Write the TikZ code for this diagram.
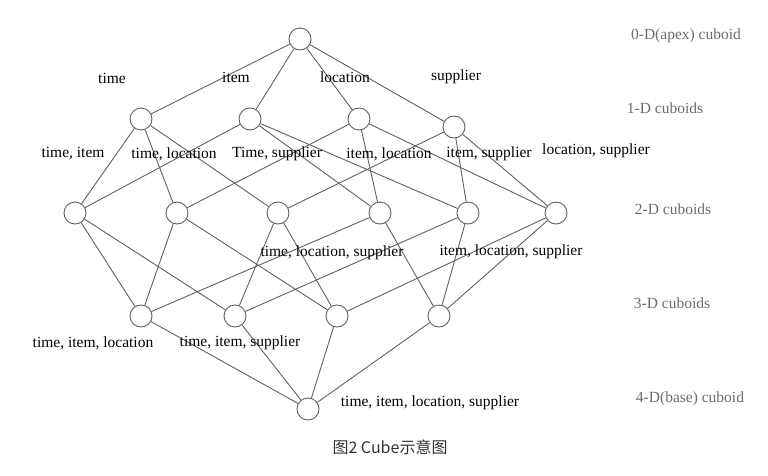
\documentclass[tikz,border=0pt]{standalone}
\usepackage{fontspec}
\setmainfont{Liberation Serif}
\newfontfamily\cjkfont{Noto Sans CJK SC}
\usetikzlibrary{positioning}

\begin{document}
\begin{tikzpicture}[x=1pt, y=-1pt,
    cuboid/.style={circle, draw=black!62, fill=white, line width=0.9pt,
                   minimum size=22pt, inner sep=0pt},
    link/.style={draw=black!62, line width=0.9pt},
    lbl/.style={font=\fontsize{15.5}{18}\selectfont, inner sep=0pt},
    lvl/.style={font=\fontsize{15.5}{18}\selectfont, text=black!58, inner sep=0pt}]

    \useasboundingbox (0,0) rectangle (768,475);

    % =================================================================
    % 1. CAC NUT CUBOID THEO TUNG MUC
    % =================================================================
    % 0-D (apex)
    \node[cuboid] (apex) at (300,39) {};

    % 1-D
    \node[cuboid] (T) at (141,119) {};
    \node[cuboid] (I) at (250,119) {};
    \node[cuboid] (L) at (359,119) {};
    \node[cuboid] (S) at (454,127) {};

    % 2-D
    \node[cuboid] (TI) at (75,213) {};
    \node[cuboid] (TL) at (177,213) {};
    \node[cuboid] (TS) at (278,213) {};
    \node[cuboid] (IL) at (380,213) {};
    \node[cuboid] (IS) at (468,213) {};
    \node[cuboid] (LS) at (556,213) {};

    % 3-D
    \node[cuboid] (TIL) at (141,316) {};
    \node[cuboid] (TIS) at (235,316) {};
    \node[cuboid] (TLS) at (337,316) {};
    \node[cuboid] (ILS) at (439,316) {};

    % 4-D (base)
    \node[cuboid] (base) at (308,409) {};

    % =================================================================
    % 2. CAC DUONG NOI
    % =================================================================
    % apex -> 1-D
    \draw[link] (apex) -- (T) (apex) -- (I) (apex) -- (L) (apex) -- (S);

    % 1-D -> 2-D
    \draw[link] (T) -- (TI) (T) -- (TL) (T) -- (TS);
    \draw[link] (I) -- (TI) (I) -- (IL) (I) -- (IS);
    \draw[link] (L) -- (TL) (L) -- (IL) (L) -- (LS);
    \draw[link] (S) -- (TS) (S) -- (IS) (S) -- (LS);

    % 2-D -> 3-D
    \draw[link] (TI) -- (TIL) (TI) -- (TIS);
    \draw[link] (TL) -- (TIL) (TL) -- (TLS);
    \draw[link] (TS) -- (TIS) (TS) -- (TLS);
    \draw[link] (IL) -- (TIL) (IL) -- (ILS);
    \draw[link] (IS) -- (TIS) (IS) -- (ILS);
    \draw[link] (LS) -- (TLS) (LS) -- (ILS);

    % 3-D -> base
    \draw[link] (TIL) -- (base) (TIS) -- (base) (TLS) -- (base) (ILS) -- (base);

    % =================================================================
    % 3. NHAN CUA CAC NUT
    % =================================================================
    \node[lbl] (lT) at (112,78) {time};
    \node[lbl] (lI) at (236,77) {item};
    \node[lbl] (lL) at (345,77) {location};
    \node[lbl] (lS) at (456,77) {supplier};

    \node[lbl] (lTI) at (73,154) {time, item};
    \node[lbl] (lTL) at (174,154) {time, location};
    \node[lbl] (lTS) at (277,154) {Time, supplier};
    \node[lbl] (lIL) at (389,154) {item, location};
    \node[lbl] (lIS) at (489,154) {item, supplier};
    \node[lbl] (lLS) at (596,151) {location, supplier};

    \node[lbl] (lTLS) at (332,253) {time, location, supplier};
    \node[lbl] (lILS) at (511,252) {item, location, supplier};
    \node[lbl] (lTIL) at (93,343) {time, item, location};
    \node[lbl] (lTIS) at (240,343) {time, item, supplier};

    \node[lbl] (lbase) at (430,403) {time, item, location, supplier};

    % =================================================================
    % 4. TEN CAC MUC BEN PHAI VA CHU THICH
    % =================================================================
    \node[lvl] (d0) at (686,36) {0-D(apex) cuboid};
    \node[lvl] (d1) at (665,108) {1-D cuboids};
    \node[lvl] (d2) at (673,209) {2-D cuboids};
    \node[lvl] (d3) at (672,303) {3-D cuboids};
    \node[lvl] (d4) at (690,399) {4-D(base) cuboid};

    \node[font=\cjkfont\fontsize{16}{18}\selectfont, text=black!80] (cap) at (390,447) {图2 Cube示意图};

\end{tikzpicture}
\end{document}
